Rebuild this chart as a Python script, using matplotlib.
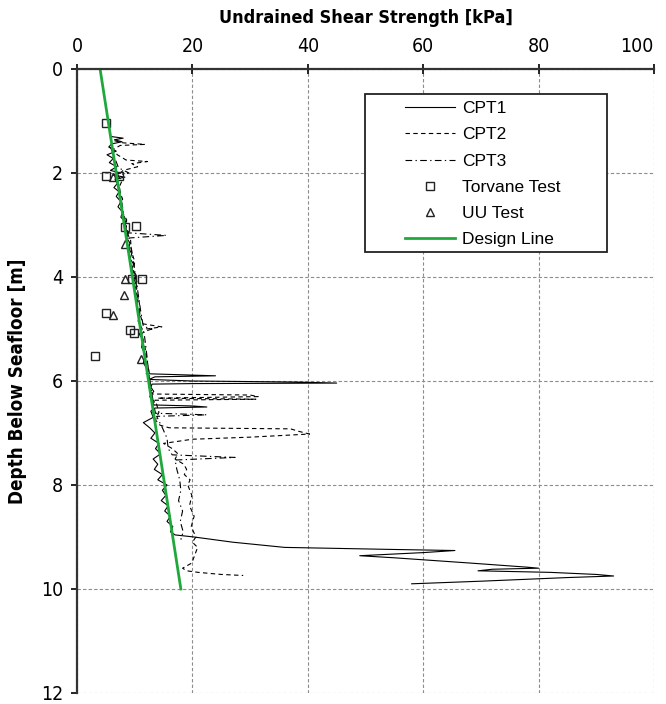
#!/usr/bin/env python3
"""Undrained shear strength profile: CPT traces, lab tests and design line."""
import matplotlib

matplotlib.use("Agg")
import matplotlib.pyplot as plt
from matplotlib import font_manager
from matplotlib.patches import Rectangle

GREEN = "#1fa83c"


def pick_narrow_font() -> tuple[str, str]:
    """Return (family, stretch) for a narrow face if one is installed."""
    names = {f.name: f for f in font_manager.fontManager.ttflist}
    for name in ("Liberation Sans Narrow", "Arial Narrow"):
        if name in names:
            return name, "normal"
    for f in font_manager.fontManager.ttflist:
        if f.name == "DejaVu Sans" and f.stretch in ("condensed", "semi-condensed"):
            return "DejaVu Sans", f.stretch
    return "Liberation Sans", "normal"


NARROW, STRETCH = pick_narrow_font()
LEGEND_FONT = ["Liberation Sans", "DejaVu Sans"]

# CPT1 (solid)
cpt1_depth = [
    1.30, 1.33, 1.36, 1.40, 1.44, 1.50, 1.58, 1.65, 1.72, 1.80, 1.88, 1.95, 2.00, 2.04,
    2.08, 2.12, 2.20, 2.28, 2.36, 2.45, 2.55, 2.65, 2.75, 2.85, 2.95, 3.05, 3.15, 3.25,
    3.35, 3.45, 3.55, 3.65, 3.75, 3.85, 3.95, 4.05, 4.15, 4.25, 4.40, 4.55, 4.70, 4.85,
    5.00, 5.10, 5.20, 5.35, 5.50, 5.65, 5.78, 5.86, 5.88, 5.90, 5.92, 5.97, 6.00, 6.02,
    6.04, 6.05, 6.06, 6.12, 6.20, 6.30, 6.40, 6.46, 6.48, 6.50, 6.52, 6.58, 6.70, 6.80,
    6.90, 7.00, 7.10, 7.20, 7.30, 7.40, 7.50, 7.60, 7.70, 7.80, 7.90, 8.00, 8.10, 8.20,
    8.30, 8.40, 8.50, 8.60, 8.70, 8.80, 8.90, 8.96, 9.00, 9.10, 9.20, 9.24, 9.26, 9.30,
    9.36, 9.40, 9.50, 9.58, 9.60, 9.62, 9.65, 9.68, 9.72, 9.75, 9.78, 9.85, 9.90,
]
cpt1_su = [
    6.0, 8.0, 6.5, 7.8, 6.0, 5.5, 6.8, 5.2, 6.3, 5.6, 6.9, 5.8, 7.5, 6.2,
    8.3, 6.6, 7.0, 6.4, 7.3, 6.8, 7.6, 7.1, 7.9, 7.6, 8.5, 8.2, 8.9, 8.6,
    9.2, 8.9, 9.5, 9.2, 9.8, 9.5, 10.2, 9.9, 10.3, 10.0, 10.6, 10.3, 10.9, 10.6,
    11.3, 10.8, 11.4, 11.2, 11.9, 11.5, 12.2, 12.0, 18.0, 24.0, 13.5, 12.5, 20.0, 38.0,
    45.0, 20.0, 13.0, 12.8, 13.3, 12.6, 13.4, 13.0, 20.0, 22.5, 13.5, 12.8, 13.2, 11.5,
    12.6, 13.5, 12.8, 14.2, 13.6, 14.5, 13.2, 14.0, 13.4, 14.8, 14.0, 15.6, 14.8, 15.4,
    14.6, 15.8, 15.2, 16.2, 15.6, 16.6, 16.2, 17.0, 20.3, 27.0, 36.0, 55.0, 65.5, 60.0,
    49.0, 55.0, 68.0, 78.0, 80.0, 72.0, 69.5, 82.0, 90.0, 93.0, 85.0, 70.0, 58.0,
]

# CPT2 (dashed)
cpt2_depth = [
    1.38, 1.42, 1.45, 1.47, 1.55, 1.65, 1.75, 1.78, 1.82, 1.88, 1.95, 2.05, 2.15, 2.30,
    2.50, 2.70, 2.90, 3.10, 3.30, 3.50, 3.70, 3.90, 4.10, 4.30, 4.50, 4.70, 4.90, 4.96,
    5.00, 5.10, 5.30, 5.50, 5.70, 5.90, 6.10, 6.25, 6.27, 6.30, 6.33, 6.35, 6.37, 6.45,
    6.60, 6.75, 6.85, 6.90, 6.92, 6.97, 7.02, 7.08, 7.12, 7.20, 7.30, 7.40, 7.50, 7.60,
    7.70, 7.80, 7.90, 8.00, 8.20, 8.40, 8.60, 8.80, 9.00, 9.10, 9.20, 9.35, 9.50, 9.60,
    9.65, 9.68, 9.72, 9.74,
]
cpt2_su = [
    6.5, 8.0, 11.8, 7.5, 6.2, 7.0, 8.5, 12.2, 9.5, 10.5, 8.0, 7.0, 7.8, 7.2,
    7.9, 7.6, 8.6, 8.5, 9.3, 9.4, 10.0, 9.8, 10.4, 10.3, 10.8, 10.9, 11.4, 14.7,
    12.0, 11.2, 11.7, 12.0, 12.3, 12.6, 12.4, 13.0, 30.0, 31.4, 14.0, 31.0, 13.5, 13.8,
    14.2, 13.6, 14.4, 16.0, 37.0, 38.5, 40.3, 30.0, 20.0, 15.0, 16.5, 17.5, 17.0, 18.5,
    19.0, 18.6, 19.6, 19.2, 19.9, 19.5, 20.3, 19.8, 20.6, 20.0, 20.9, 20.4, 19.9, 18.3,
    19.0, 21.0, 25.0, 28.8,
]

# CPT3 (dash-dot)
cpt3_depth = [
    1.50, 1.70, 1.90, 2.00, 2.05, 2.30, 2.60, 2.90, 3.15, 3.20, 3.25, 3.50, 3.80, 4.10,
    4.40, 4.70, 4.95, 5.00, 5.05, 5.40, 5.80, 6.10, 6.40, 6.62, 6.65, 6.68, 6.90, 7.10,
    7.30, 7.42, 7.47, 7.52, 7.70, 7.90, 8.10, 8.30, 8.50, 8.70, 8.90, 9.05,
]
cpt3_su = [
    5.8, 6.5, 7.2, 9.0, 6.8, 7.4, 7.8, 8.3, 8.8, 15.5, 9.0, 9.5, 9.9, 10.3,
    10.7, 11.1, 11.5, 13.0, 11.6, 12.0, 12.4, 12.8, 13.2, 13.6, 22.5, 13.8, 14.8, 15.6,
    15.8, 16.5, 27.4, 17.0, 17.3, 17.8, 18.0, 17.6, 18.3, 17.9, 18.4, 18.0,
]

torvane_depth = [1.03, 2.05, 2.05, 3.03, 3.02, 4.04, 4.04, 4.70, 5.02, 5.08, 5.52]
torvane_su = [5.1, 5.1, 7.2, 8.3, 10.2, 9.5, 11.3, 5.1, 9.2, 9.9, 3.2]

uu_depth = [2.08, 3.37, 4.03, 4.35, 4.73, 5.58]
uu_su = [6.3, 8.3, 8.3, 8.2, 6.3, 11.1]

design_depth = [0.0, 10.0]
design_su = [4.0, 18.0]

x_ticks = [0, 20, 40, 60, 80, 100]
y_ticks = [0, 2, 4, 6, 8, 10, 12]


def main() -> None:
    fig = plt.figure(figsize=(6.66, 7.04), dpi=100)
    ax = fig.add_axes([77 / 666, 1 - 693 / 704, 577 / 666, 624 / 704])

    ax.plot(cpt1_su, cpt1_depth, color="black", lw=0.8, label="CPT1")
    ax.plot(cpt2_su, cpt2_depth, color="black", lw=0.8, ls=(0, (4, 3)), label="CPT2")
    ax.plot(cpt3_su, cpt3_depth, color="black", lw=0.8, ls=(0, (6, 3, 1.2, 3)), label="CPT3")
    ax.plot(torvane_su, torvane_depth, ls="none", marker="s", ms=6, mfc="none",
            mec="#222222", mew=1.0, label="Torvane Test")
    ax.plot(uu_su, uu_depth, ls="none", marker="^", ms=6, mfc="none",
            mec="#222222", mew=1.0, label="UU Test")
    ax.plot(design_su, design_depth, color=GREEN, lw=2.0, label="Design Line")

    ax.set_xlim(0, 100)
    ax.set_ylim(12, 0)
    ax.set_xticks(x_ticks)
    ax.set_yticks(y_ticks)
    ax.xaxis.tick_top()
    ax.xaxis.set_label_position("top")
    ax.tick_params(axis="x", direction="inout", length=7, width=1.2, pad=6, labelsize=14)
    ax.tick_params(axis="y", direction="out", length=4, width=1.2, pad=6, labelsize=14)
    for lab in ax.get_xticklabels() + ax.get_yticklabels():
        lab.set_family(NARROW)
        lab.set_stretch(STRETCH)
    ax.get_xticklabels()[-1].set_horizontalalignment("right")
    ax.get_xticklabels()[-1].set_x(100.5)

    ax.set_xlabel("Undrained Shear Strength [kPa]", family=NARROW, stretch=STRETCH,
                  fontsize=13, fontweight="bold", labelpad=10)
    ax.set_ylabel("Depth Below Seafloor [m]", family=NARROW, stretch=STRETCH,
                  fontsize=13.5, fontweight="bold", labelpad=10)

    ax.grid(True, color="#8c8c8c", ls=(0, (3, 2)), lw=0.8)
    ax.set_axisbelow(True)
    for side in ("right", "bottom"):
        ax.spines[side].set_visible(False)
    for side in ("top", "left"):
        ax.spines[side].set_linewidth(1.6)
        ax.spines[side].set_color("#333333")

    ax.legend(
        loc="upper left",
        bbox_to_anchor=(405 / 666, 1 - 101 / 704),
        bbox_transform=fig.transFigure,
        frameon=False,
        borderpad=0,
        borderaxespad=0,
        handlelength=2.9,
        handletextpad=0.4,
        labelspacing=0.64,
        prop={"family": LEGEND_FONT, "size": 12.5},
    )
    frame = Rectangle((365 / 666, 1 - 252 / 704), 242 / 666, 158 / 704,
                      transform=fig.transFigure, fill=True, fc="white",
                      ec="#222222", lw=1.3)
    ax.add_artist(frame)
    frame.set_zorder(4)
    frame.set_clip_on(False)
    ax.get_legend().set_zorder(5)

    fig.savefig("out.png", dpi=100)


if __name__ == "__main__":
    main()
